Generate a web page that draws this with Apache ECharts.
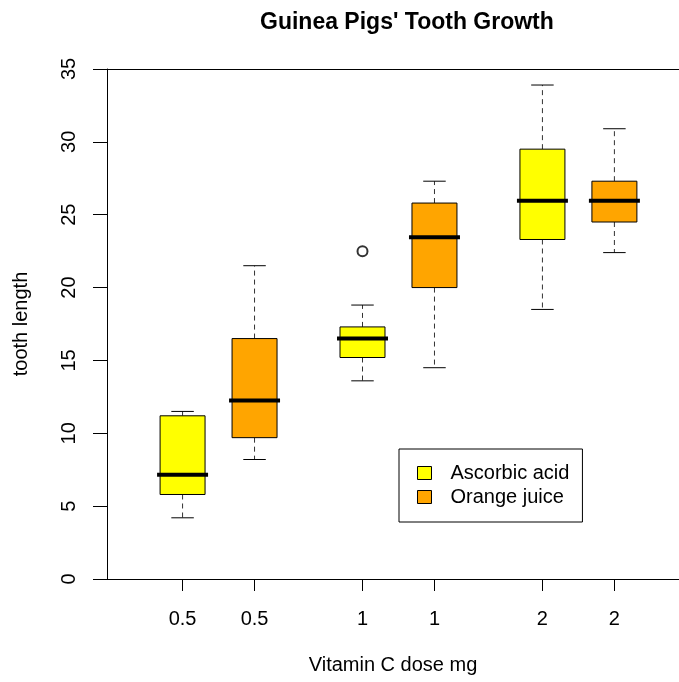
<!DOCTYPE html>
<html>
<head>
<meta charset="utf-8">
<script src="https://cdn.jsdelivr.net/npm/echarts@6/dist/echarts.min.js"></script>
<style>html,body{margin:0;padding:0;background:#fff}#c{width:679px;height:682px}</style>
</head>
<body>
<div id="c"></div>
<script>
var doses = ['0.5', '1', '2'];
var groups = ['Ascorbic acid', 'Orange juice'];
// five-number summaries per dose: [min, Q1, median, Q3, max]
var vcStats = [
  [4.2, 5.8, 7.15, 11.2, 11.5],
  [13.6, 15.2, 16.5, 17.3, 18.8],
  [18.5, 23.3, 25.95, 29.5, 33.9]
];
var ojStats = [
  [8.2, 9.7, 12.25, 16.5, 21.5],
  [14.5, 20.0, 23.45, 25.8, 27.3],
  [22.4, 24.5, 25.95, 27.3, 30.9]
];
// outliers: [group index, dose index, value]
var outliers = [[0, 1, 22.5]];
var yTicks = [0, 5, 10, 15, 20, 25, 30, 35];

var FONT = "'Liberation Sans', Arial, Helvetica, sans-serif";
var offsets = [-0.2, 0.2];
function xPos(g, d) { return d + 1 + offsets[g]; }

function buildData(g, stats) {
  return stats.map(function (s, d) { return [xPos(g, d)].concat(s); });
}

var tickVals = [];
doses.forEach(function (d, i) { tickVals.push(xPos(0, i), xPos(1, i)); });

// plot region is cut off at the right edge of the picture
var X_MIN = 0.38, X_MAX = 3.559;

function renderBox(params, api) {
  var x = api.value(0);
  var mn = api.value(1), q1 = api.value(2), md = api.value(3), q3 = api.value(4), mx = api.value(5);
  var hw = api.size([0.125, 0])[0];
  var pMin = api.coord([x, mn]), pQ1 = api.coord([x, q1]), pMd = api.coord([x, md]),
      pQ3 = api.coord([x, q3]), pMax = api.coord([x, mx]);
  var cx = pMd[0];
  var style = api.style();
  var dash = { stroke: '#333', lineWidth: 1, lineDash: [5, 4] };
  var solid = { stroke: '#000', lineWidth: 1 };
  var sw = hw / 2;
  return {
    type: 'group',
    children: [
      { type: 'line', shape: { x1: cx, y1: pQ3[1], x2: cx, y2: pMax[1] }, style: dash },
      { type: 'line', shape: { x1: cx, y1: pQ1[1], x2: cx, y2: pMin[1] }, style: dash },
      { type: 'line', shape: { x1: cx - sw, y1: pMax[1], x2: cx + sw, y2: pMax[1] }, style: solid },
      { type: 'line', shape: { x1: cx - sw, y1: pMin[1], x2: cx + sw, y2: pMin[1] }, style: solid },
      { type: 'rect', shape: { x: cx - hw, y: pQ3[1], width: 2 * hw, height: pQ1[1] - pQ3[1] },
        style: { fill: style.fill, stroke: '#000', lineWidth: 1 } },
      { type: 'line', shape: { x1: cx - hw - 3, y1: pMd[1], x2: cx + hw + 3, y2: pMd[1] },
        style: { stroke: '#000', lineWidth: 4 } }
    ]
  };
}

var chart = echarts.init(document.getElementById('c'), null, { renderer: 'canvas' });
chart.setOption({
  animation: false,
  backgroundColor: '#fff',
  textStyle: { fontFamily: FONT },
  title: {
    text: "Guinea Pigs' Tooth Growth",
    left: 255, top: 6,
    textStyle: { fontFamily: FONT, fontSize: 23, fontWeight: 'bold', color: '#000' }
  },
  grid: { left: 107, top: 69, right: 0, height: 510, show: false, containLabel: false },
  legend: {
    data: groups,
    orient: 'vertical',
    left: 399, top: 449,
    padding: [14, 13, 15, 18],
    borderColor: '#000', borderWidth: 1, backgroundColor: '#fff',
    icon: 'rect', itemWidth: 14, itemHeight: 13, itemGap: 4,
    itemStyle: { borderColor: '#000', borderWidth: 1 },
    textStyle: { fontFamily: FONT, fontSize: 20, color: '#000', lineHeight: 20, padding: [0, 0, 0, 14] },
    selectedMode: false
  },
  xAxis: [{
    type: 'value', min: X_MIN, max: X_MAX,
    name: 'Vitamin C dose mg', nameLocation: 'middle', nameGap: 76,
    nameTextStyle: { fontFamily: FONT, fontSize: 20, color: '#000' },
    splitLine: { show: false },
    axisLine: { show: true, lineStyle: { color: '#000', width: 1 } },
    axisTick: { show: true, customValues: tickVals, length: 12, lineStyle: { color: '#000' } },
    axisLabel: {
      customValues: tickVals, margin: 30, fontSize: 20, color: '#000', fontFamily: FONT,
      formatter: function (v) { return doses[Math.round(v) - 1]; }
    }
  }, {
    type: 'value', min: X_MIN, max: X_MAX, position: 'top',
    splitLine: { show: false },
    axisLine: { show: true, lineStyle: { color: '#000', width: 1 } },
    axisTick: { show: false }, axisLabel: { show: false }
  }],
  yAxis: {
    type: 'value', min: 0, max: 35, interval: 5,
    name: 'tooth length', nameLocation: 'middle', nameGap: 76, nameRotate: 90,
    nameTextStyle: { fontFamily: FONT, fontSize: 20, color: '#000' },
    splitLine: { show: false },
    axisLine: { show: true, lineStyle: { color: '#000', width: 1 } },
    axisTick: { show: true, length: 14, lineStyle: { color: '#000' } },
    axisLabel: {
      rotate: 90, margin: 28, fontSize: 20, color: '#000', fontFamily: FONT,
      customValues: yTicks
    }
  },
  series: [
    {
      name: groups[0], type: 'custom', renderItem: renderBox,
      itemStyle: { color: '#FFFF00', borderColor: '#000', borderWidth: 1 },
      encode: { x: 0, y: [1, 2, 3, 4, 5] },
      data: buildData(0, vcStats)
    },
    {
      name: groups[1], type: 'custom', renderItem: renderBox,
      itemStyle: { color: '#FFA500', borderColor: '#000', borderWidth: 1 },
      encode: { x: 0, y: [1, 2, 3, 4, 5] },
      data: buildData(1, ojStats)
    },
    {
      name: 'outliers', type: 'scatter', symbol: 'emptyCircle', symbolSize: 10,
      itemStyle: { color: '#000', borderColor: '#000', borderWidth: 1 },
      data: outliers.map(function (o) { return [xPos(o[0], o[1]), o[2]]; })
    }
  ]
});
</script>
</body>
</html>
